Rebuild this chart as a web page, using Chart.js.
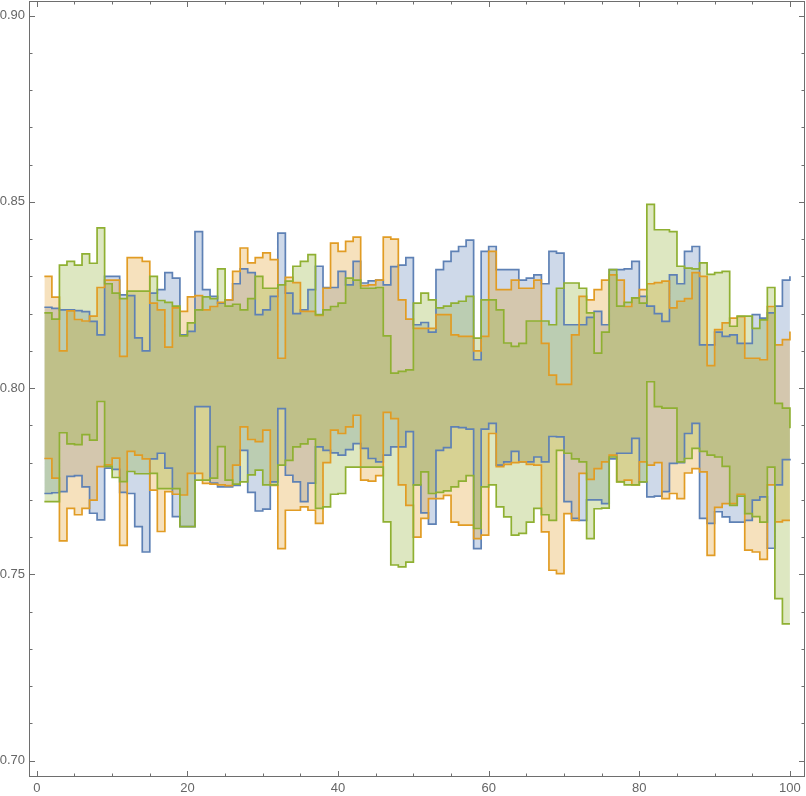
<!DOCTYPE html>
<html>
<head>
<meta charset="utf-8">
<script src="https://cdn.jsdelivr.net/npm/chart.js@4.4.1/dist/chart.umd.min.js"></script>
<style>
  html, body { margin: 0; padding: 0; background: #fff; }
  canvas { display: block; }
</style>
</head>
<body>
<canvas id="myChart" width="806" height="796"></canvas>
<script>
// x positions 1..100
const xs = Array.from({ length: 100 }, (_, i) => i + 1);

// blue band (upper / lower edge)
const blueUpper = [
  .8217, .8214, .8210, .8210, .8208, .8205, .8179, .8143, .8300, .8300,
  .8250, .8248, .8135, .8100, .8255, .8264, .8310, .8295, .8143, .8152,
  .8420, .8264, .8246, .8228, .8237, .8280, .8320, .8310, .8197, .8210,
  .8246, .8416, .8255, .8200, .8210, .8264, .8327, .8270, .8270, .8313,
  .8277, .8340, .8282, .8288, .8290, .8277, .8326, .8330, .8350, .8170,
  .8176, .8150, .8318, .8340, .8367, .8380, .8397, .8076, .8367, .8380,
  .8318, .8318, .8318, .8290, .8295, .8304, .8280, .8367, .8362, .8170,
  .8170, .8170, .8190, .8206, .8170, .8318, .8318, .8320, .8340, .8246,
  .8220, .8200, .8179, .8304, .8280, .8367, .8380, .8116, .8116, .8150,
  .8139, .8143, .8120, .8120, .8197, .8188, .8202, .8220, .8290, .8300
];
const blueLower = [
  .7717, .7719, .7722, .7763, .7765, .7735, .7664, .7646, .7785, .7782,
  .7720, .7717, .7628, .7560, .7810, .7825, .7785, .7655, .7628, .7628,
  .7950, .7950, .7745, .7735, .7735, .7739, .7833, .7720, .7670, .7675,
  .7748, .7945, .7766, .7748, .7695, .7745, .7842, .7833, .7826, .7820,
  .7835, .7851, .7838, .7811, .7802, .7820, .7842, .7842, .7883, .7740,
  .7665, .7635, .7833, .7840, .7896, .7894, .7890, .7569, .7890, .7905,
  .7793, .7802, .7830, .7802, .7802, .7815, .7802, .7870, .7869, .7695,
  .7650, .7645, .7700, .7700, .7690, .7810, .7825, .7825, .7865, .7748,
  .7708, .7710, .7722, .7798, .7800, .7878, .7905, .7650, .7637, .7668,
  .7654, .7640, .7640, .7645, .7699, .7708, .7570, .7740, .7808, .7810
];

// orange band
const orangeUpper = [
  .8300, .8244, .8100, .8207, .8184, .8180, .8193, .8270, .8290, .8290,
  .8085, .8350, .8350, .8340, .8228, .8210, .8110, .8215, .8206, .8245,
  .8248, .8210, .8219, .8230, .8237, .8313, .8376, .8336, .8350, .8363,
  .8345, .8080, .8297, .8283, .8206, .8206, .8195, .8268, .8389, .8367,
  .8394, .8405, .8275, .8277, .8290, .8405, .8400, .8237, .8185, .8160,
  .8160, .8160, .8197, .8197, .8143, .8139, .8139, .8100, .8139, .8367,
  .8264, .8264, .8290, .8268, .8268, .8290, .8120, .8035, .8010, .8010,
  .8143, .8246, .8237, .8264, .8290, .8304, .8290, .8219, .8242, .8264,
  .8280, .8283, .8287, .8215, .8233, .8240, .8310, .8300, .8060, .8157,
  .8175, .8188, .8192, .8080, .8080, .8076, .8219, .8116, .8130, .8152
];
const orangeLower = [
  .7811, .7758, .7590, .7677, .7660, .7677, .7699, .7789, .7794, .7812,
  .7578, .7830, .7820, .7810, .7726, .7615, .7722, .7715, .7713, .7771,
  .7771, .7744, .7742, .7740, .7738, .7793, .7896, .7862, .7856, .7887,
  .7739, .7569, .7672, .7672, .7681, .7672, .7637, .7800, .7887, .7878,
  .7896, .7927, .7753, .7750, .7765, .7935, .7918, .7740, .7685, .7600,
  .7650, .7703, .7703, .7712, .7640, .7632, .7632, .7596, .7605, .7878,
  .7789, .7795, .7800, .7802, .7795, .7793, .7614, .7511, .7502, .7663,
  .7645, .7771, .7755, .7784, .7802, .7820, .7749, .7753, .7740, .7802,
  .7793, .7800, .7703, .7717, .7703, .7772, .7784, .7775, .7551, .7680,
  .7690, .7690, .7715, .7565, .7560, .7540, .7740, .7641, .7645, .7645
];

// green band
const greenUpper = [
  .8202, .8185, .8330, .8340, .8330, .8360, .8335, .8430, .8280, .8255,
  .8240, .8260, .8260, .8260, .8300, .8235, .8230, .8220, .8140, .8175,
  .8210, .8245, .8240, .8320, .8220, .8225, .8210, .8240, .8300, .8268,
  .8268, .8277, .8287, .8327, .8340, .8358, .8197, .8210, .8219, .8228,
  .8295, .8290, .8268, .8268, .8270, .8140, .8040, .8045, .8049, .8228,
  .8255, .8237, .8215, .8220, .8228, .8233, .8246, .8134, .8237, .8237,
  .8210, .8121, .8112, .8120, .8180, .8180, .8180, .8170, .8268, .8282,
  .8282, .8268, .8202, .8094, .8150, .8318, .8220, .8230, .8242, .8228,
  .8493, .8425, .8425, .8420, .8327, .8322, .8320, .8336, .8305, .8310,
  .8313, .8166, .8193, .8193, .8160, .8183, .8270, .7959, .7946, .7892
];
const greenLower = [
  .7695, .7695, .7880, .7850, .7848, .7875, .7860, .7964, .7790, .7760,
  .7749, .7776, .7770, .7770, .7771, .7730, .7730, .7730, .7628, .7628,
  .7753, .7753, .7758, .7843, .7753, .7742, .7748, .7767, .7780, .7740,
  .7740, .7793, .7806, .7842, .7850, .7863, .7677, .7681, .7715, .7717,
  .7788, .7788, .7788, .7788, .7788, .7641, .7525, .7520, .7533, .7740,
  .7775, .7717, .7720, .7724, .7735, .7750, .7765, .7623, .7735, .7740,
  .7681, .7654, .7605, .7610, .7640, .7677, .7660, .7645, .7833, .7825,
  .7810, .7802, .7596, .7676, .7678, .7815, .7748, .7740, .7740, .7748,
  .8017, .7950, .7946, .7946, .7802, .7811, .7838, .7830, .7820, .7815,
  .7790, .7685, .7710, .7663, .7655, .7640, .7788, .7435, .7367, .7367
];

const xTicks = [0, 20, 40, 60, 80, 100];
const yTicks = [0.70, 0.75, 0.80, 0.85, 0.90];

const colors = {
  blue: "#5e81b5",
  orange: "#e19c24",
  green: "#8fb032"
};
const fills = {
  blue: "rgba(94,129,181,0.3)",
  orange: "rgba(225,156,36,0.3)",
  green: "rgba(143,176,50,0.3)"
};

function pts(values) {
  return values.map((v, i) => ({ x: xs[i], y: v }));
}

function band(name, upper, lower) {
  return [
    {
      label: name + " upper",
      data: pts(upper),
      borderColor: colors[name],
      backgroundColor: fills[name],
      borderWidth: 1.7,
      pointRadius: 0,
      stepped: true,
      fill: "+1"
    },
    {
      label: name + " lower",
      data: pts(lower),
      borderColor: colors[name],
      backgroundColor: fills[name],
      borderWidth: 1.7,
      pointRadius: 0,
      stepped: true,
      fill: false
    }
  ];
}

// frame with inward ticks on all four sides
const frameTicks = {
  id: "frameTicks",
  afterDatasetsDraw(chart) {
    const { ctx, chartArea: a, scales: { x, y } } = chart;
    ctx.save();
    ctx.strokeStyle = "#6e6e6e";
    ctx.lineWidth = 1;
    ctx.strokeRect(a.left + 0.5, a.top + 0.5, a.right - a.left - 1, a.bottom - a.top - 1);
    ctx.beginPath();
    for (let v = 0; v <= 100; v += 5) {
      const px = Math.round(x.getPixelForValue(v)) + 0.5;
      const len = v % 20 === 0 ? 6 : 3.5;
      ctx.moveTo(px, a.bottom); ctx.lineTo(px, a.bottom - len);
      ctx.moveTo(px, a.top); ctx.lineTo(px, a.top + len);
    }
    for (let k = 70; k <= 90; k++) {
      const py = Math.round(y.getPixelForValue(k / 100)) + 0.5;
      const len = k % 5 === 0 ? 6 : 3.5;
      ctx.moveTo(a.left, py); ctx.lineTo(a.left + len, py);
      ctx.moveTo(a.right, py); ctx.lineTo(a.right - len, py);
    }
    ctx.stroke();
    ctx.restore();
  }
};

const tickFont = { family: "'Liberation Sans', Arial, sans-serif", size: 13 };

new Chart(document.getElementById("myChart"), {
  type: "line",
  data: {
    datasets: [
      ...band("green", greenUpper, greenLower),
      ...band("orange", orangeUpper, orangeLower),
      ...band("blue", blueUpper, blueLower)
    ]
  },
  options: {
    responsive: false,
    animation: false,
    devicePixelRatio: 1,
    layout: { padding: { top: 1, right: 1, left: 0, bottom: 0 } },
    plugins: {
      legend: { display: false },
      tooltip: { enabled: false },
      filler: { drawTime: "beforeDatasetsDraw" }
    },
    scales: {
      x: {
        type: "linear",
        min: -1.04,
        max: 102.0,
        afterBuildTicks: s => { s.ticks = xTicks.map(v => ({ value: v })); },
        afterFit: s => { s.height = 19; s.paddingLeft = 0; s.paddingRight = 0; },
        grid: { display: false, drawTicks: false },
        border: { display: false },
        ticks: { color: "#666", font: tickFont, padding: 4, maxRotation: 0 }
      },
      y: {
        type: "linear",
        min: 0.6956,
        max: 0.9039,
        afterBuildTicks: s => { s.ticks = yTicks.map(v => ({ value: v })); },
        afterFit: s => { s.width = 29; s.paddingTop = 0; s.paddingBottom = 0; },
        grid: { display: false, drawTicks: false },
        border: { display: false },
        ticks: {
          color: "#666",
          font: tickFont,
          padding: 4,
          callback: v => Number(v).toFixed(2)
        }
      }
    }
  },
  plugins: [frameTicks]
});
</script>
</body>
</html>
